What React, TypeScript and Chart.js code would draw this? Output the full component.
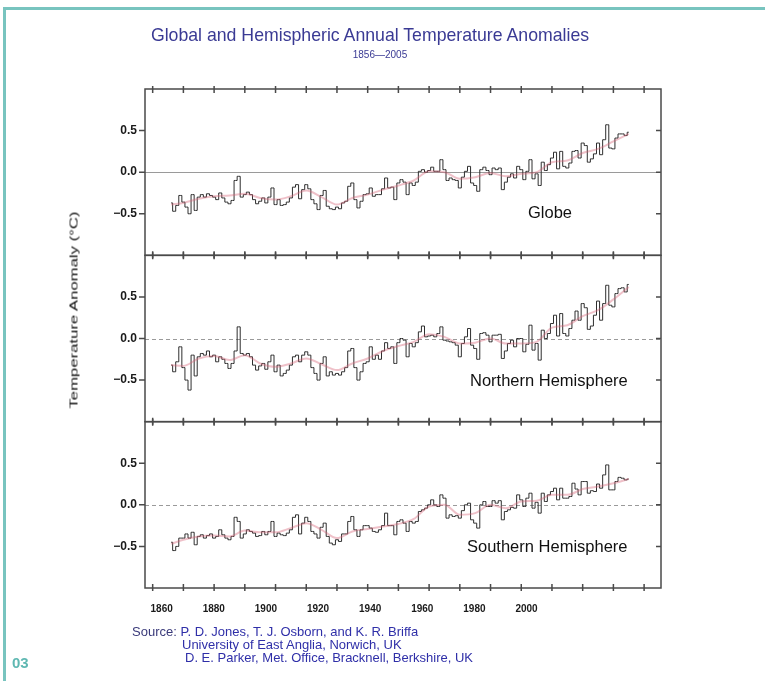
import React, { useEffect, useRef } from "react";
import { Chart, registerables } from "chart.js";
Chart.register(...registerables);

// ---- data ----
const years: number[] = Array.from({ length: 150 }, (_, i) => 1856 + i);

const globe: number[] = [
  -0.37, -0.47, -0.40, -0.28, -0.36, -0.42, -0.50, -0.27, -0.46, -0.30,
  -0.27, -0.30, -0.26, -0.28, -0.30, -0.33, -0.25, -0.31, -0.36, -0.38,
  -0.34, -0.10, -0.05, -0.30, -0.27, -0.24, -0.27, -0.33, -0.38, -0.35,
  -0.31, -0.37, -0.30, -0.19, -0.39, -0.33, -0.40, -0.39, -0.36, -0.31,
  -0.18, -0.15, -0.32, -0.21, -0.15, -0.20, -0.33, -0.38, -0.45, -0.28,
  -0.22, -0.41, -0.44, -0.45, -0.42, -0.44, -0.37, -0.35, -0.17, -0.13,
  -0.33, -0.43, -0.35, -0.27, -0.26, -0.19, -0.29, -0.27, -0.27, -0.20,
  -0.07, -0.19, -0.18, -0.33, -0.13, -0.09, -0.12, -0.27, -0.13, -0.16,
  -0.12, 0.01, 0.03, 0.00, 0.02, 0.06, 0.01, 0.01, 0.15, 0.03,
  -0.10, -0.07, -0.09, -0.10, -0.19, -0.06, 0.01, 0.07, -0.13, -0.16,
  -0.23, 0.03, 0.06, 0.02, -0.03, 0.05, 0.03, 0.05, -0.21, -0.12,
  -0.06, -0.02, -0.07, 0.07, 0.03, -0.09, 0.01, 0.15, -0.08, -0.02,
  -0.16, 0.12, 0.02, 0.09, 0.17, 0.24, 0.04, 0.25, 0.07, 0.05,
  0.11, 0.25, 0.26, 0.17, 0.35, 0.32, 0.12, 0.16, 0.22, 0.35,
  0.21, 0.39, 0.57, 0.29, 0.28, 0.41, 0.46, 0.46, 0.44, 0.48,
];

const north: number[] = [
  -0.32, -0.40, -0.28, -0.10, -0.35, -0.50, -0.62, -0.20, -0.45, -0.22,
  -0.18, -0.20, -0.15, -0.22, -0.20, -0.28, -0.22, -0.25, -0.30, -0.36,
  -0.30, -0.15, 0.14, -0.18, -0.20, -0.18, -0.22, -0.32, -0.38, -0.33,
  -0.30, -0.37, -0.28, -0.20, -0.40, -0.32, -0.45, -0.42, -0.38, -0.32,
  -0.22, -0.20, -0.28, -0.20, -0.16, -0.20, -0.35, -0.42, -0.50, -0.30,
  -0.22, -0.45, -0.40, -0.44, -0.42, -0.44, -0.40, -0.35, -0.15, -0.12,
  -0.35, -0.50, -0.40, -0.30, -0.28, -0.10, -0.25, -0.20, -0.25, -0.15,
  -0.05, -0.12, -0.10, -0.30, -0.05, 0.00, -0.02, -0.22, -0.06, -0.10,
  -0.05, 0.08, 0.15, 0.02, 0.03, 0.04, 0.02, 0.06, 0.14, -0.02,
  -0.03, -0.04, -0.05, -0.08, -0.22, -0.06, 0.02, 0.12, -0.08, -0.12,
  -0.25, 0.06, 0.07, 0.04, -0.04, 0.04, 0.04, 0.05, -0.24, -0.15,
  -0.06, -0.02, -0.10, 0.00, 0.00, -0.16, -0.07, 0.16, -0.14, -0.06,
  -0.26, 0.10, 0.00, 0.06, 0.18, 0.28, 0.03, 0.30, 0.06, 0.03,
  0.12, 0.22, 0.33, 0.22, 0.42, 0.37, 0.11, 0.15, 0.28, 0.45,
  0.22, 0.42, 0.64, 0.40, 0.38, 0.54, 0.60, 0.61, 0.56, 0.65,
];

const south: number[] = [
  -0.45, -0.55, -0.50, -0.40, -0.40, -0.35, -0.40, -0.33, -0.48, -0.38,
  -0.36, -0.40, -0.37, -0.35, -0.40, -0.38, -0.30, -0.36, -0.40, -0.42,
  -0.38, -0.15, -0.20, -0.40, -0.35, -0.30, -0.32, -0.34, -0.38, -0.37,
  -0.32, -0.36, -0.32, -0.20, -0.38, -0.34, -0.36, -0.37, -0.34, -0.30,
  -0.15, -0.12, -0.35, -0.22, -0.15, -0.20, -0.32, -0.35, -0.40, -0.27,
  -0.22, -0.38, -0.46, -0.48, -0.42, -0.44, -0.35, -0.35, -0.20, -0.14,
  -0.30, -0.38, -0.30, -0.25, -0.25, -0.28, -0.32, -0.33, -0.30, -0.25,
  -0.10, -0.25, -0.25, -0.36, -0.20, -0.18, -0.22, -0.32, -0.20, -0.22,
  -0.20, -0.08, -0.06, -0.04, 0.00, 0.06, 0.00, -0.02, 0.12, 0.08,
  -0.16, -0.12, -0.14, -0.13, -0.16, -0.07, 0.00, 0.02, -0.18, -0.22,
  -0.28, 0.00, 0.04, -0.02, -0.02, 0.05, 0.02, 0.05, -0.18, -0.08,
  -0.06, -0.03, -0.04, 0.12, 0.06, -0.02, 0.08, 0.14, -0.04, 0.03,
  -0.10, 0.14, 0.04, 0.12, 0.16, 0.20, 0.06, 0.20, 0.08, 0.08,
  0.10, 0.26, 0.19, 0.12, 0.28, 0.28, 0.14, 0.17, 0.16, 0.25,
  0.20, 0.36, 0.48, 0.18, 0.18, 0.28, 0.33, 0.32, 0.30, 0.31,
];

const smoothYears: number[] = [
  1856, 1860, 1865, 1870, 1875, 1880, 1885, 1890, 1895, 1900, 1905, 1910, 1915, 1920, 1925, 1930,
  1935, 1940, 1945, 1950, 1955, 1960, 1965, 1970, 1975, 1980, 1985, 1990, 1995, 2000, 2005,
];
const smoothGlobe: number[] = [
  -0.39, -0.37, -0.32, -0.29, -0.28, -0.26, -0.31, -0.33, -0.29, -0.22, -0.30, -0.39, -0.31, -0.27, -0.21, -0.16,
  -0.10, 0.01, 0.00, -0.08, -0.06, -0.01, -0.05, -0.02, 0.00, 0.12, 0.14, 0.23, 0.28, 0.37, 0.46,
];
const smoothNorth: number[] = [
  -0.32, -0.33, -0.24, -0.21, -0.26, -0.20, -0.30, -0.34, -0.30, -0.24, -0.31, -0.38, -0.30, -0.24, -0.15, -0.09,
  -0.04, 0.05, 0.02, -0.06, -0.05, 0.00, -0.06, -0.06, -0.04, 0.13, 0.16, 0.27, 0.34, 0.47, 0.62,
];
const smoothSouth: number[] = [
  -0.47, -0.42, -0.38, -0.37, -0.38, -0.31, -0.33, -0.33, -0.28, -0.22, -0.30, -0.40, -0.32, -0.29, -0.26, -0.23,
  -0.17, -0.02, 0.00, -0.12, -0.10, 0.00, -0.04, 0.04, 0.05, 0.12, 0.12, 0.19, 0.22, 0.26, 0.31,
];

const xTickLabels: number[] = [1860, 1880, 1900, 1920, 1940, 1960, 1980, 2000];
const xMinorTicks: number[] = [1850, 1860, 1870, 1880, 1890, 1900, 1910, 1920, 1930, 1940, 1950, 1960, 1970, 1980, 1990, 2000, 2010];
const yTicks: number[] = [-0.5, 0, 0.5];
const panelIds = ["yG", "yN", "yS"];
const panelNames = ["Globe", "Northern Hemisphere", "Southern Hemisphere"];

const FONT = '"Liberation Sans", Arial, sans-serif';

const panelPlugin = {
  id: "panelDeco",
  beforeDatasetsDraw(chart: any) {
    const ctx = chart.ctx;
    const { left, right } = chart.chartArea;
    panelIds.forEach((id, k) => {
      const ys = chart.scales[id];
      const y0 = Math.round(ys.getPixelForValue(0)) + 0.5;
      ctx.save();
      ctx.strokeStyle = "#9a9a9a";
      ctx.lineWidth = 1;
      ctx.setLineDash(k === 0 ? [] : [4, 3]);
      ctx.beginPath();
      ctx.moveTo(left, y0);
      ctx.lineTo(right, y0);
      ctx.stroke();
      ctx.restore();
    });
  },
  afterDatasetsDraw(chart: any) {
    const ctx = chart.ctx;
    const xs = chart.scales.x;
    const { left, right } = chart.chartArea;
    ctx.save();
    ctx.strokeStyle = "#4a4a4a";
    ctx.lineWidth = 1.5;
    panelIds.forEach((id) => {
      const ys = chart.scales[id];
      const top = ys.top;
      const bottom = ys.bottom;
      ctx.strokeRect(left, top, right - left, bottom - top);
      ctx.beginPath();
      yTicks.forEach((v) => {
        const py = ys.getPixelForValue(v);
        ctx.moveTo(left - 6, py);
        ctx.lineTo(left, py);
        ctx.moveTo(right - 5, py);
        ctx.lineTo(right, py);
      });
      xMinorTicks.forEach((yr) => {
        const px = xs.getPixelForValue(yr);
        ctx.moveTo(px, top - 3);
        ctx.lineTo(px, top + 4);
        ctx.moveTo(px, bottom - 4);
        ctx.lineTo(px, bottom + 3);
      });
      ctx.stroke();
    });
    ctx.restore();
  },
};

function stepSet(vals: number[], axis: string) {
  return {
    data: years.map((y, i) => ({ x: y, y: vals[i] })),
    xAxisID: "x",
    yAxisID: axis,
    stepped: "middle",
    borderColor: "#2e2e2e",
    borderWidth: 1,
    pointRadius: 0,
    fill: false,
  };
}
function smoothSet(vals: number[], axis: string) {
  return {
    data: smoothYears.map((y, i) => ({ x: y, y: vals[i] })),
    xAxisID: "x",
    yAxisID: axis,
    borderColor: "rgba(214,100,120,0.4)",
    borderWidth: 2,
    pointRadius: 0,
    cubicInterpolationMode: "monotone",
    fill: false,
  };
}

function yScale() {
  return {
    type: "linear",
    position: "left",
    stack: "panels",
    stackWeight: 1,
    min: -1,
    max: 1,
    afterBuildTicks: (s: any) => {
      s.ticks = yTicks.map((v) => ({ value: v }));
    },
    afterFit: (s: any) => {
      s.width = 40;
    },
    grid: { display: false, drawTicks: false },
    border: { display: false },
    ticks: {
      padding: 8,
      color: "#1a1a1a",
      font: { family: FONT, size: 12, weight: "bold" },
      callback: (v: number) => (v < 0 ? "\u2212" + Math.abs(v).toFixed(1) : v.toFixed(1)),
    },
  };
}

export default function App() {
  const ref = useRef<HTMLCanvasElement | null>(null);
  useEffect(() => {
    if (!ref.current) return;
    const chart = new Chart(ref.current, {
      type: "line",
      data: {
        datasets: [
          smoothSet(smoothGlobe, "yG"),
          stepSet(globe, "yG"),
          smoothSet(smoothNorth, "yN"),
          stepSet(north, "yN"),
          smoothSet(smoothSouth, "yS"),
          stepSet(south, "yS"),
        ] as any,
      },
      options: {
        responsive: false,
        animation: false,
        devicePixelRatio: 1,
        layout: { padding: { left: 105, right: 104, top: 89, bottom: 63 } },
        plugins: { legend: { display: false }, tooltip: { enabled: false }, title: { display: false } },
        scales: {
          x: { type: "linear", min: 1847.5, max: 2015.5, display: false },
          xl: {
            type: "linear",
            position: "bottom",
            min: 1853.6,
            max: 2051.6,
            afterBuildTicks: (s: any) => {
              s.ticks = xTickLabels.map((v) => ({ value: v }));
            },
            afterFit: (s: any) => {
              s.height = 30;
            },
            grid: { display: false, drawTicks: false },
            border: { display: false },
            ticks: {
              padding: 15,
              maxRotation: 0,
              autoSkip: false,
              color: "#1a1a1a",
              font: { family: FONT, size: 10, weight: "bold" },
              callback: (v: number) => String(v),
            },
          },
          // stacked panels: first defined is placed at the bottom
          yS: yScale(),
          yN: yScale(),
          yG: yScale(),
        } as any,
      },
      plugins: [panelPlugin as any],
    });
    return () => chart.destroy();
  }, []);

  const abs = (extra: React.CSSProperties): React.CSSProperties => ({
    position: "absolute",
    whiteSpace: "nowrap",
    fontFamily: FONT,
    lineHeight: 1,
    ...extra,
  });
  const navy = "#3a3a94";
  const blue = "#2f2fa8";

  return (
    <div style={{ position: "absolute", left: 0, top: 0, width: 765, height: 681, background: "#fff", overflow: "hidden" }}>
      <div style={{ position: "absolute", left: 4, top: 7, width: 761, height: 3, background: "#78c4bf" }} />
      <div style={{ position: "absolute", left: 3, top: 7, width: 3, height: 674, background: "#78c4bf" }} />
      <canvas ref={ref} width={765} height={681} style={{ position: "absolute", left: 0, top: 0, width: 765, height: 681 }} />
      <div style={abs({ left: 370, top: 36, transform: "translate(-50%,-50%)", fontSize: 17.7, color: navy })}>
        Global and Hemispheric Annual Temperature Anomalies
      </div>
      <div style={abs({ left: 380, top: 55, transform: "translate(-50%,-50%)", fontSize: 10, color: navy })}>
        1856—2005
      </div>
      <div
        style={abs({
          left: 74,
          top: 310,
          transform: "translate(-50%,-50%) rotate(-90deg) scaleX(1.52)",
          fontSize: 11,
          color: "#111",
        })}
      >
        Temperature Anomaly (°C)
      </div>
      <div style={abs({ left: 528, top: 212, transform: "translateY(-50%)", fontSize: 16.5, color: "#111" })}>
        {panelNames[0]}
      </div>
      <div style={abs({ left: 470, top: 380, transform: "translateY(-50%)", fontSize: 16.5, color: "#111" })}>
        {panelNames[1]}
      </div>
      <div style={abs({ left: 467, top: 546, transform: "translateY(-50%)", fontSize: 16.5, color: "#111" })}>
        {panelNames[2]}
      </div>
      <div style={abs({ left: 132, top: 631, transform: "translateY(-50%)", fontSize: 13, color: blue })}>
        <span style={{ color: "#3a3a7a" }}>Source:</span> P. D. Jones, T. J. Osborn, and K. R. Briffa
      </div>
      <div style={abs({ left: 182, top: 644, transform: "translateY(-50%)", fontSize: 13, color: blue })}>
        University of East Anglia, Norwich, UK
      </div>
      <div style={abs({ left: 185, top: 657, transform: "translateY(-50%)", fontSize: 13, color: blue })}>
        D. E. Parker, Met. Office, Bracknell, Berkshire, UK
      </div>
      <div style={abs({ left: 12, top: 662, transform: "translateY(-50%)", fontSize: 15, fontWeight: "bold", color: "#5fb8b2" })}>
        03
      </div>
    </div>
  );
}
